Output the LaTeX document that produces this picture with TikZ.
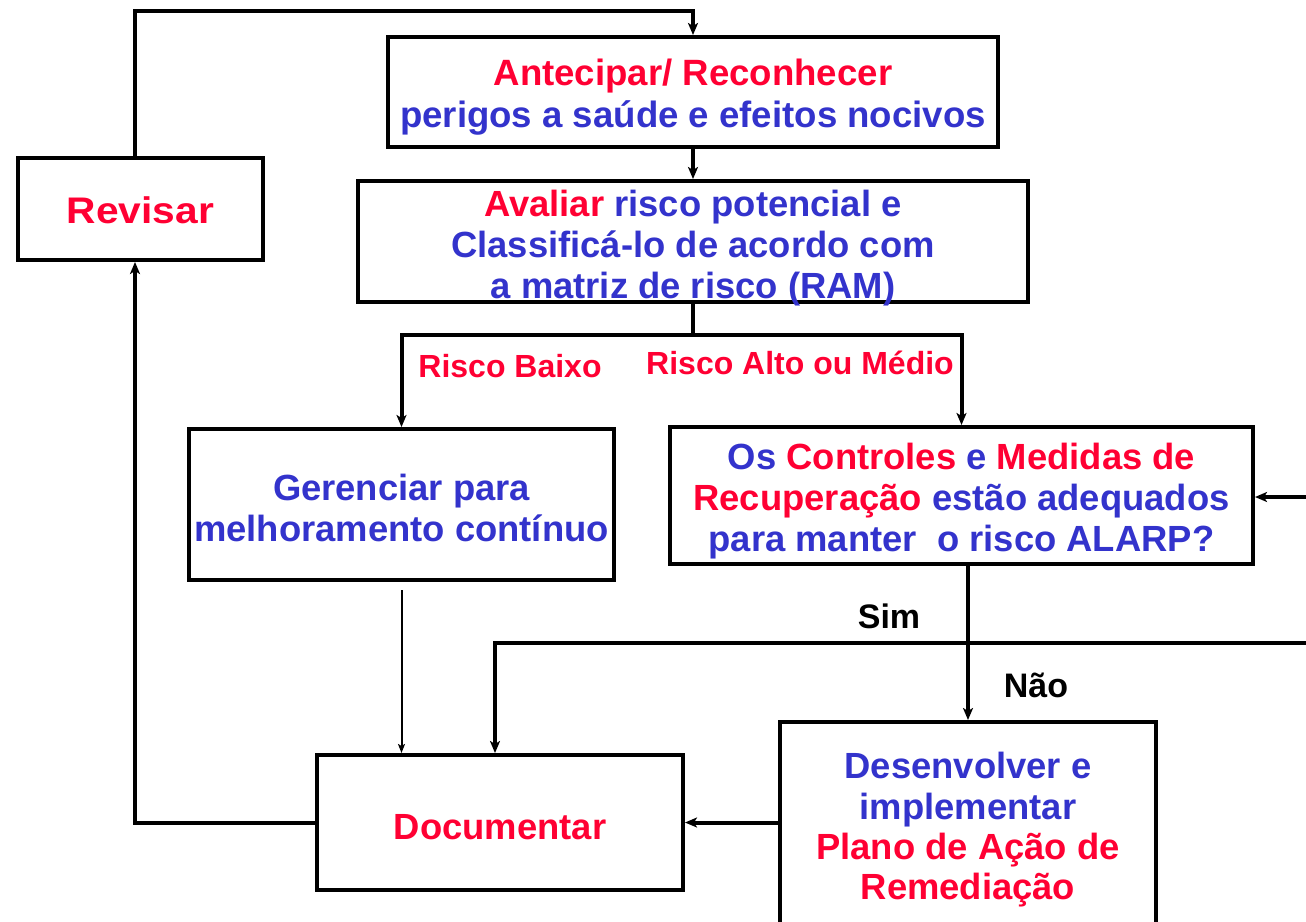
\documentclass[tikz,border=0pt]{standalone}
\usepackage{fontspec}
\setmainfont{Liberation Sans}
\newfontfamily\widefont{Liberation Sans}[FakeStretch=1.1]
\usetikzlibrary{arrows.meta}
\definecolor{rd}{RGB}{255,0,51}
\definecolor{bl}{RGB}{51,51,204}
\newcommand{\tstrut}[1]{\rule{0pt}{#1}}
\newcommand{\nodepth}[1]{\raisebox{0pt}[\height][0pt]{#1}}
\begin{document}
\begin{tikzpicture}[x=0.5pt,y=-0.5pt,
  box/.style={draw=black, line width=2pt, fill=white, inner sep=0pt, align=center,
    text=bl, font=\bfseries\fontsize{18.2}{20.6}\selectfont},
  conn/.style={line width=2pt, -{Stealth[length=6pt,width=5pt,inset=1.5pt]}},
  plain/.style={line width=2pt},
  thinconn/.style={line width=1pt, -{Stealth[length=4.5pt,width=3.5pt,inset=1pt]}},
  lbl/.style={inner sep=0pt, anchor=base, text=rd, font=\bfseries\fontsize{16}{18}\selectfont},
  yn/.style={inner sep=0pt, anchor=base, text=black, font=\bfseries\fontsize{17}{19}\selectfont}
]
\useasboundingbox (0,0) rectangle (1306,921);

\node[box, minimum width=305pt, minimum height=55pt, font=\bfseries\fontsize{18.3}{21}\selectfont] (ante) at (693,92)
  {\tstrut{18pt}\textcolor{rd}{Antecipar/ Reconhecer}\\perigos a saúde e efeitos nocivos};
\node[box, minimum width=122.5pt, minimum height=51pt, text=rd,
  font=\bfseries\widefont\fontsize{18.5}{20.5}\selectfont] (rev) at (140.5,209) {\tstrut{15pt}Revisar};
\node[box, minimum width=335pt, minimum height=60.5pt] (aval) at (693,241.5)
  {\tstrut{16.2pt}\textcolor{rd}{Avaliar} risco potencial e\\Classificá-lo de acordo com\\\nodepth{a matriz de risco (RAM)}};
\node[box, minimum width=212.5pt, minimum height=75.5pt] (ger) at (401.5,504.5)
  {\tstrut{17pt}Gerenciar para\\melhoramento contínuo};
\node[box, minimum width=291.5pt, minimum height=68.5pt] (ctrl) at (961.5,495.5)
  {\tstrut{19pt}Os \textcolor{rd}{Controles} e \textcolor{rd}{Medidas de}\\\textcolor{rd}{Recuperação} estão adequados\\para manter \ o risco ALARP?};
\node[box, minimum width=183pt, minimum height=67.5pt, text=rd] (doc) at (500,822.5) {\tstrut{17pt}Documentar};
\node[box, minimum width=188pt, minimum height=105pt, font=\bfseries\fontsize{18.2}{20.2}\selectfont] (des) at (968,827)
  {\tstrut{16pt}Desenvolver e\\implementar\\\textcolor{rd}{Plano de Ação de}\\\textcolor{rd}{Remediação}};

\node[lbl] (lbaixo) at (510,377) {Risco Baixo};
\node[lbl] (lalto) at (800,374) {Risco Alto ou Médio};
\node[yn] (sim) at (889,628) {Sim};
\node[yn] (nao) at (1036,697) {Não};

\coordinate (split) at (693,335);
\coordinate (inR) at (1330,497);
\coordinate (simR) at (1330,643);

% connectors
\draw[conn] ([xshift=-2.75pt]rev.north) -- ++(0,-145) -| (ante.north);
\draw[conn] (ante.south) -- (aval.north);
\draw[plain] (aval.south) -- (split);
\draw[conn] (split) -| (ger.north);
\draw[conn] (split) -| (ctrl.north);
\draw[conn] (des.north |- ctrl.south) -- (des.north);
\draw[conn] (inR) -- (inR -| ctrl.east);
\draw[conn] (simR) -| ([xshift=-2.5pt]doc.north);
\draw[thinconn] ([yshift=-4pt]ger.south) -- (ger.south |- doc.north);
\draw[conn] (doc.east -| des.west) -- (doc.east);
\draw[conn] (doc.west) -| ([xshift=-2.75pt]rev.south);
\end{tikzpicture}
\end{document}
